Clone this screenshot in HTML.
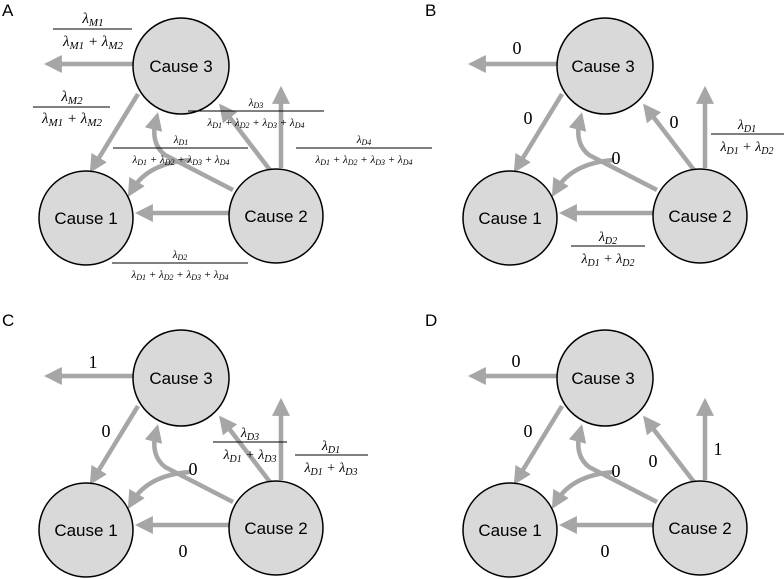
<!DOCTYPE html>
<html><head><meta charset="utf-8"><style>
html,body{margin:0;padding:0;background:#fff;}
svg{display:block;}
.c{fill:#d9d9d9;stroke:#000;stroke-width:1.5;}
.a{fill:none;stroke:#a6a6a6;stroke-width:4.5;}
.t{font-family:"Liberation Sans",sans-serif;font-size:17px;fill:#000;text-anchor:middle;}
.p{font-family:"Liberation Sans",sans-serif;font-size:17px;fill:#000;}
.m{font-family:"Liberation Serif",serif;font-style:italic;fill:#000;text-anchor:middle;}
.n{font-family:"Liberation Serif",serif;font-size:18px;fill:#000;text-anchor:middle;}
.fl{stroke:#000;stroke-width:1;}
</style></head><body>
<svg width="784" height="579" viewBox="0 0 784 579" xmlns="http://www.w3.org/2000/svg">
<defs>
<marker id="ah" markerWidth="4" markerHeight="4" refX="2.2" refY="2" orient="auto" markerUnits="strokeWidth">
<path d="M0,0 L4,2 L0,4 Z" fill="#a6a6a6"/>
</marker>
<g id="base">
<path class="a" d="M133,64 L52,64" marker-end="url(#ah)"/>
<path class="a" d="M138,94 L94,166" marker-end="url(#ah)"/>
<path class="a" d="M229,213 L143,213" marker-end="url(#ah)"/>
<path class="a" d="M233,190 L165,155 Q150,143 156,120" marker-end="url(#ah)"/>
<path class="a" d="M190,160 Q148,163 132,190" marker-end="url(#ah)"/>
<path class="a" d="M270,170 L224,110" marker-end="url(#ah)"/>
<path class="a" d="M281,168 L281,94" marker-end="url(#ah)"/>
<circle class="c" cx="181" cy="66" r="48"/>
<circle class="c" cx="86" cy="218" r="47"/>
<circle class="c" cx="276" cy="216" r="47"/>
</g>
</defs>

<!-- Panel A -->
<text class="p" x="2" y="16">A</text>
<use href="#base"/>
<text class="t" x="181" y="72">Cause 3</text>
<text class="t" x="86" y="224">Cause 1</text>
<text class="t" x="276" y="222">Cause 2</text>
<text class="m" x="93" y="23" font-size="15">λ<tspan font-size="11" dy="3">M1</tspan></text>
<line class="fl" x1="53" y1="29" x2="132" y2="29"/>
<text class="m" x="93" y="46" font-size="15">λ<tspan font-size="11" dy="3">M1</tspan><tspan dy="-3"> + λ</tspan><tspan font-size="11" dy="3">M2</tspan></text>
<text class="m" x="72" y="101" font-size="15">λ<tspan font-size="11" dy="3">M2</tspan></text>
<line class="fl" x1="33" y1="107" x2="110" y2="107"/>
<text class="m" x="72" y="123" font-size="15">λ<tspan font-size="11" dy="3">M1</tspan><tspan dy="-3"> + λ</tspan><tspan font-size="11" dy="3">M2</tspan></text>
<text class="m" x="256" y="106" font-size="11">λ<tspan font-size="8" dy="2">D3</tspan></text>
<line class="fl" x1="188" y1="111" x2="324" y2="111"/>
<text class="m" x="256" y="126" font-size="11">λ<tspan font-size="8" dy="2">D1</tspan><tspan dy="-2"> + λ</tspan><tspan font-size="8" dy="2">D2</tspan><tspan dy="-2"> + λ</tspan><tspan font-size="8" dy="2">D3</tspan><tspan dy="-2"> + λ</tspan><tspan font-size="8" dy="2">D4</tspan></text>
<text class="m" x="181" y="143" font-size="11">λ<tspan font-size="8" dy="2">D1</tspan></text>
<line class="fl" x1="113" y1="148" x2="248" y2="148"/>
<text class="m" x="181" y="163" font-size="11">λ<tspan font-size="8" dy="2">D1</tspan><tspan dy="-2"> + λ</tspan><tspan font-size="8" dy="2">D2</tspan><tspan dy="-2"> + λ</tspan><tspan font-size="8" dy="2">D3</tspan><tspan dy="-2"> + λ</tspan><tspan font-size="8" dy="2">D4</tspan></text>
<text class="m" x="364" y="143" font-size="11">λ<tspan font-size="8" dy="2">D4</tspan></text>
<line class="fl" x1="296" y1="148" x2="432" y2="148"/>
<text class="m" x="364" y="163" font-size="11">λ<tspan font-size="8" dy="2">D1</tspan><tspan dy="-2"> + λ</tspan><tspan font-size="8" dy="2">D2</tspan><tspan dy="-2"> + λ</tspan><tspan font-size="8" dy="2">D3</tspan><tspan dy="-2"> + λ</tspan><tspan font-size="8" dy="2">D4</tspan></text>
<text class="m" x="180" y="258" font-size="11">λ<tspan font-size="8" dy="2">D2</tspan></text>
<line class="fl" x1="112" y1="263" x2="248" y2="263"/>
<text class="m" x="180" y="278" font-size="11">λ<tspan font-size="8" dy="2">D1</tspan><tspan dy="-2"> + λ</tspan><tspan font-size="8" dy="2">D2</tspan><tspan dy="-2"> + λ</tspan><tspan font-size="8" dy="2">D3</tspan><tspan dy="-2"> + λ</tspan><tspan font-size="8" dy="2">D4</tspan></text>

<!-- Panel B -->
<text class="p" x="425" y="16">B</text>
<use href="#base" x="424"/>
<text class="t" x="603" y="72">Cause 3</text>
<text class="t" x="510" y="224">Cause 1</text>
<text class="t" x="700" y="222">Cause 2</text>
<text class="n" x="517" y="54">0</text>
<text class="n" x="528" y="124">0</text>
<text class="n" x="674" y="128">0</text>
<text class="n" x="616" y="164">0</text>
<text class="m" x="747" y="129" font-size="14">λ<tspan font-size="10" dy="3">D1</tspan></text>
<line class="fl" x1="711" y1="134" x2="784" y2="134"/>
<text class="m" x="747" y="151" font-size="14">λ<tspan font-size="10" dy="3">D1</tspan><tspan dy="-3"> + λ</tspan><tspan font-size="10" dy="3">D2</tspan></text>
<text class="m" x="608" y="241" font-size="14">λ<tspan font-size="10" dy="3">D2</tspan></text>
<line class="fl" x1="571" y1="246" x2="645" y2="246"/>
<text class="m" x="608" y="263" font-size="14">λ<tspan font-size="10" dy="3">D1</tspan><tspan dy="-3"> + λ</tspan><tspan font-size="10" dy="3">D2</tspan></text>

<!-- Panel C -->
<text class="p" x="2" y="326">C</text>
<use href="#base" y="312"/>
<text class="t" x="181" y="384">Cause 3</text>
<text class="t" x="86" y="536">Cause 1</text>
<text class="t" x="276" y="534">Cause 2</text>
<text class="n" x="93" y="368">1</text>
<text class="n" x="106" y="437">0</text>
<text class="n" x="193" y="475">0</text>
<text class="n" x="183" y="557">0</text>
<text class="m" x="250" y="437" font-size="14">λ<tspan font-size="10" dy="3">D3</tspan></text>
<line class="fl" x1="213" y1="442" x2="287" y2="442"/>
<text class="m" x="250" y="459" font-size="14">λ<tspan font-size="10" dy="3">D1</tspan><tspan dy="-3"> + λ</tspan><tspan font-size="10" dy="3">D3</tspan></text>
<text class="m" x="331" y="450" font-size="14">λ<tspan font-size="10" dy="3">D1</tspan></text>
<line class="fl" x1="295" y1="455" x2="368" y2="455"/>
<text class="m" x="331" y="472" font-size="14">λ<tspan font-size="10" dy="3">D1</tspan><tspan dy="-3"> + λ</tspan><tspan font-size="10" dy="3">D3</tspan></text>

<!-- Panel D -->
<text class="p" x="425" y="326">D</text>
<use href="#base" x="424" y="312"/>
<text class="t" x="603" y="384">Cause 3</text>
<text class="t" x="510" y="536">Cause 1</text>
<text class="t" x="700" y="534">Cause 2</text>
<text class="n" x="516" y="367">0</text>
<text class="n" x="528" y="437">0</text>
<text class="n" x="616" y="477">0</text>
<text class="n" x="653" y="467">0</text>
<text class="n" x="718" y="455">1</text>
<text class="n" x="605" y="557">0</text>
</svg>
</body></html>
